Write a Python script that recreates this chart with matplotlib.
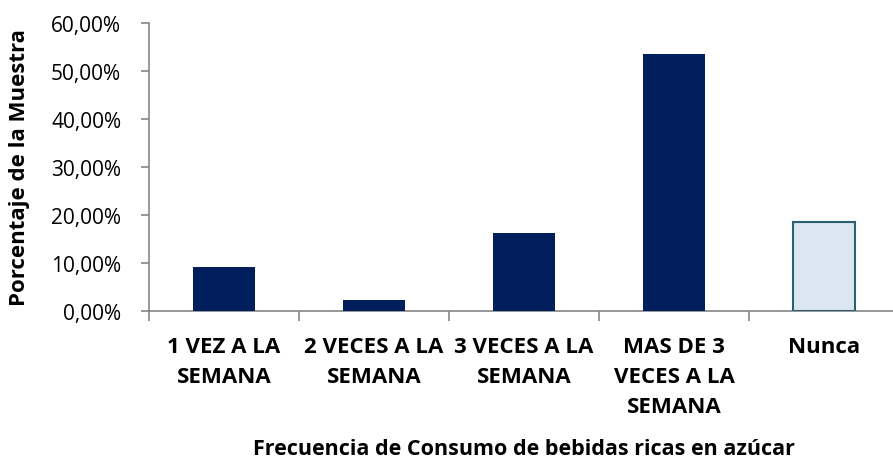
import numpy as np
import matplotlib.pyplot as plt
from matplotlib.ticker import FuncFormatter

categorias = ['1 VEZ A LA\nSEMANA', '2 VECES A LA\nSEMANA', '3 VECES A LA\nSEMANA',
              'MAS DE 3\nVECES A LA\nSEMANA', 'Nunca']
porcentajes = [9.2, 2.3, 16.2, 53.5, 18.6]

plt.rcParams['font.family'] = ['Open Sans', 'DejaVu Sans']

fig = plt.figure(figsize=(8.93, 4.6), dpi=100)
ax = fig.add_axes([149 / 893, 1 - 312 / 460, 750 / 893, 288 / 460])

x = np.arange(len(categorias))
colores = ['#001f5c'] * 4 + ['#dce6f2']
bordes = ['#001f5c'] * 4 + ['#2c5f70']
anchos = [0] * 4 + [1.5]
ax.bar(x, porcentajes, width=0.41, color=colores, edgecolor=bordes, linewidth=anchos, zorder=3)

ax.set_xlim(-0.5, len(categorias) - 0.5)
ax.set_ylim(0, 60)
ax.set_yticks(np.arange(0, 61, 10))
ax.yaxis.set_major_formatter(FuncFormatter(lambda v, p: f'{v:.2f}%'.replace('.', ',')))

ax.set_xticks(np.arange(-0.5, len(categorias), 1))
ax.set_xticklabels([])
ax.set_xticks(x, minor=True)
ax.set_xticklabels(categorias, minor=True, fontweight='bold', fontsize=16, linespacing=1.55)
ax.tick_params(axis='x', which='minor', length=0, pad=18)
ax.tick_params(axis='x', which='major', length=7, color='#868686', width=1.2)
ax.tick_params(axis='y', length=6, color='#868686', width=1.2, labelsize=15, pad=14)

for s in ['top', 'right']:
    ax.spines[s].set_visible(False)
for s in ['left', 'bottom']:
    ax.spines[s].set_color('#868686')
    ax.spines[s].set_linewidth(1.2)

ax.set_ylabel('Porcentaje de la Muestra', fontweight='bold', fontsize=16)
ax.yaxis.set_label_coords(-149 / 750 + 20 / 750, 0.5)
ax.set_xlabel('Frecuencia de Consumo de bebidas ricas en azúcar', fontweight='bold', fontsize=15.5)
ax.xaxis.set_label_coords((524 - 149) / 750, -(450 - 312) / 288)
ax.xaxis.label.set_va('center')
ax.yaxis.label.set_va('center')

fig.savefig('out.png', dpi=100)
